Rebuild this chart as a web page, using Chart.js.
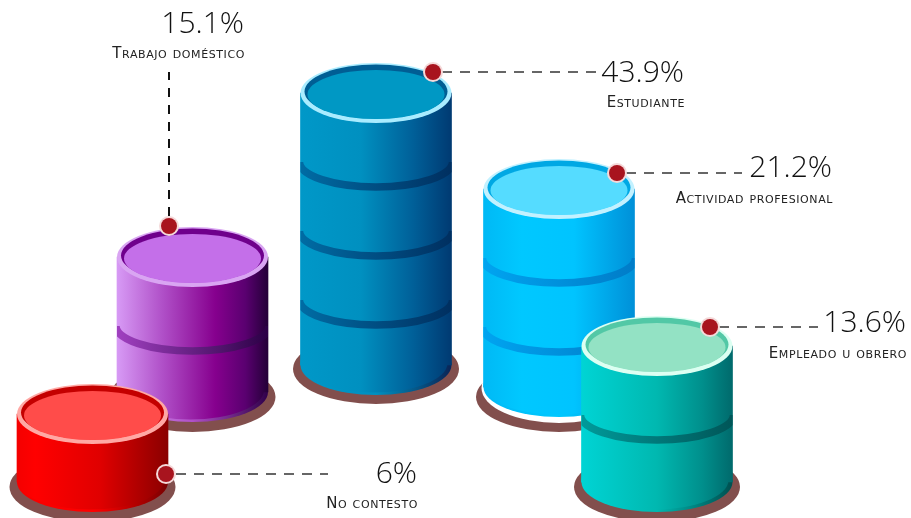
<!DOCTYPE html>
<html><head><meta charset="utf-8">
<style>html,body{margin:0;padding:0;background:#fff}canvas{display:block}</style>
<script src="https://cdn.jsdelivr.net/npm/chart.js@4/dist/chart.umd.min.js"></script>
</head><body><canvas id="c" width="911" height="518"></canvas>
<script>
const categories = ["No contesto","Trabajo doméstico","Estudiante","Actividad profesional","Empleado u obrero"];
const values = [6,15.1,43.9,21.2,13.6];
const bandCounts = [0,1,3,2,1];

// Picture layout, one entry per cylinder (pixels of the 911x518 frame)
const W=911,H=518,RX=75.5,RY=30,BAND_STEP=69;
const placement = [
 {cx:92.5, top:414, base:482, shadowDy:5, mark:[166,474], line:[176,474,328,474], pct:[417,483], lab:[418,508], dark:"#666"},
 {cx:192.5,top:257, base:392, shadowDy:5, mark:[169,226], line:[169,216,169,72], pct:[244,33], lab:[245,58], dark:"#111"},
 {cx:376, top:93, base:365, shadowDy:4, mark:[433,72], line:[442,72,596,72], pct:[684,82], lab:[685,107], dark:"#666"},
 {cx:559, top:189, base:387, shadowDy:10,mark:[617,173], line:[626,173,742,173], pct:[832,177], lab:[833,203], dark:"#666"},
 {cx:657, top:346, base:482, shadowDy:5, mark:[710,327], line:[719,327,818,327], pct:[906,332], lab:[907,358], dark:"#666"}
];
const drawRank = [2,5,4,3,1];
const looks = [
 {stops:[[0,"#f40000"],[.12,"#ff0000"],[.55,"#e00000"],[1,"#8a0000"]],edge:"#7a0000",top:"#ff4c4a",inner:"#c40000",rim:"#ffa8a4",band:["#c00000","#700000"]},
 {stops:[[0,"#d79af5"],[.3,"#b050c8"],[.65,"#86008e"],[.85,"#5a0070"],[1,"#240038"]],edge:"#30004a",top:"#c46fe9",inner:"#6f008c",rim:"#d9a5f2",band:["#a040c0","#2c0046"]},
 {stops:[[0,"#0098c8"],[.4,"#0090c0"],[.75,"#005f98"],[1,"#003a72"]],edge:"#0a2456",top:"#0098c4",inner:"#005e94",rim:"#a9ecff",band:["#006ca4","#002f60"]},
 {stops:[[0,"#00b9f5"],[.25,"#00c8ff"],[.6,"#00c4ff"],[1,"#0090d8"]],edge:"#00a0e4",top:"#55dcff",inner:"#00a8e4",rim:"#c2f1ff",band:["#00a4f0","#007cc8"]},
 {stops:[[0,"#00d4d4"],[.5,"#00b8b0"],[.8,"#008f8c"],[1,"#006a6c"]],edge:"#004f50",top:"#93e2c4",inner:"#52c8a6",rim:"#dcfff2",band:["#009a9a","#005658"]}
];
const SHADOW="#824f4d";

function ellipse(c,x,y,rx,ry){c.beginPath();c.ellipse(x,y,rx,ry,0,0,Math.PI*2);c.fill();}
function horiz(c,i,pairs){
  const p=placement[i],g=c.createLinearGradient(p.cx-RX,0,p.cx+RX,0);
  pairs.forEach(s=>g.addColorStop(s[0],s[1]));return g;
}
function bodyGradient(c,i){return horiz(c,i,looks[i].stops);}
const cylinder={
  id:"cylinder",
  beforeDatasetDraw(chart,args){
    const i=args.index,c=chart.ctx,el=args.meta.data[0],p=placement[i],l=looks[i];
    c.save();
    c.fillStyle=SHADOW;ellipse(c,el.x,el.base+p.shadowDy,RX+7.5,RY+5);
    if(i===3){c.fillStyle="#fff";ellipse(c,el.x,el.base+1,RX+2,RY+5);}
    c.fillStyle=horiz(c,i,[[0,l.stops[0][1]],[.5,l.stops[1][1]],[1,l.edge]]);ellipse(c,el.x,el.base,RX,RY);
    c.fillStyle=bodyGradient(c,i);ellipse(c,el.x-2,el.base-2,RX-2,RY-.5);
    c.restore();
  },
  afterDatasetDraw(chart,args){
    const i=args.index,c=chart.ctx,el=args.meta.data[0],l=looks[i],x=el.x,y=el.y;
    c.save();
    c.beginPath();c.rect(x-RX,y,RX*2,el.base-y+RY);c.clip();
    c.strokeStyle=horiz(c,i,[[0,l.band[0]],[1,l.band[1]]]);c.lineWidth=7.5;
    for(let b=1;b<=bandCounts[i];b++){
      c.beginPath();
      c.ellipse(x,y+b*BAND_STEP,RX+1,RY-5,0,0,Math.PI);c.stroke();
    }
    c.restore();
    c.save();
    c.fillStyle=l.rim;ellipse(c,x,y,RX,RY);
    c.fillStyle=l.inner;ellipse(c,x,y-1.5,RX-4,RY-3);
    c.fillStyle=l.top;ellipse(c,x,y+1.5,RX-7,RY-5.5);
    c.restore();
  },
  afterDraw(chart){
    const c=chart.ctx;
    c.save();
    placement.forEach((p,i)=>{
      c.strokeStyle=p.dark;c.lineWidth=2;c.setLineDash(i===1?[9,8]:[10,8]);
      c.beginPath();c.moveTo(p.line[0],p.line[1]);c.lineTo(p.line[2],p.line[3]);c.stroke();
      c.setLineDash([]);
      c.fillStyle="#f4d9d9";ellipse(c,p.mark[0],p.mark[1],10,10);
      c.fillStyle="#a8141e";ellipse(c,p.mark[0],p.mark[1],8,8);
      c.textAlign="right";c.textBaseline="alphabetic";
      c.letterSpacing="0px";
      c.fillStyle="#111";c.font="300 30px 'Open Sans'";
      c.fillText(values[i]+"%",p.pct[0],p.pct[1]);
      c.letterSpacing="0.6px";
      c.fillStyle="#222";c.font="small-caps 400 15px 'DejaVu Sans'";
      c.fillText(categories[i],p.lab[0],p.lab[1]);
    });
    c.restore();
  }
};

const scales={};
const datasets=values.map((v,i)=>{
  const p=placement[i],u=v/(p.base-p.top);
  scales["x"+i]={type:"linear",display:false,offset:false,bounds:"data",min:i-p.cx/W,max:i+(W-p.cx)/W};
  scales["y"+i]={type:"linear",display:false,bounds:"data",min:-(H-p.base)*u,max:v+p.top*u};
  return {label:categories[i],data:[{x:i,y:v}],xAxisID:"x"+i,yAxisID:"y"+i,order:drawRank[i],
    barThickness:RX*2,borderWidth:0,
    backgroundColor:ctx=>bodyGradient(ctx.chart.ctx,i)};
});
new Chart(document.getElementById("c"),{
  type:"bar",
  data:{labels:categories,datasets},
  options:{responsive:false,animation:false,grouped:false,
    layout:{padding:0},scales,
    plugins:{legend:{display:false},tooltip:{enabled:false},title:{display:false}},
    events:[]},
  plugins:[cylinder]
});
</script></body></html>
